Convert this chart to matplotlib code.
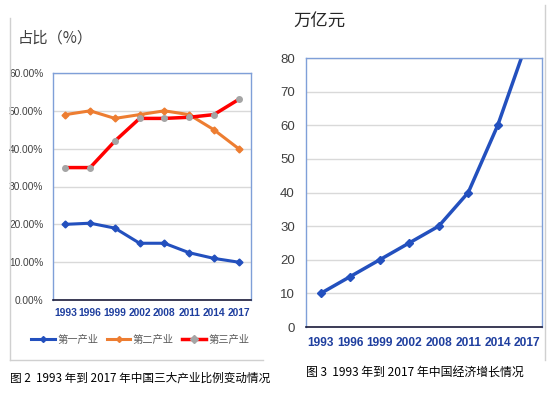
import matplotlib
matplotlib.use("Agg")
import matplotlib.pyplot as plt
from matplotlib.lines import Line2D
from matplotlib.ticker import FuncFormatter

plt.rcParams['font.family'] = ['Noto Sans CJK SC', 'DejaVu Sans']

years = ['1993', '1996', '1999', '2002', '2008', '2011', '2014', '2017']
primary = [20.0, 20.3, 19.0, 15.0, 15.0, 12.5, 11.0, 10.0]
secondary = [49.0, 50.0, 48.0, 49.0, 50.0, 49.0, 45.0, 40.0]
tertiary = [35.0, 35.0, 42.0, 48.0, 48.0, 48.3, 49.0, 53.0]
series_names = ['第一产业', '第二产业', '第三产业']
gdp = [10, 15, 20, 25, 30, 40, 60, 85]

W, H = 554, 393
fig = plt.figure(figsize=(W / 100, H / 100), dpi=100)

def fx(px):
    return px / W

def fy(py):
    return 1 - py / H

blue = '#2350BE'
orange = '#ED7D31'
red = '#FF0000'
gray_m = '#A5A5A5'
tick_blue = '#1F3F9F'
spine_blue = '#7F9FD8'
grid_c = '#D9D9D9'
num_font = 'Liberation Sans'

# ---- Left chart
ax1 = fig.add_axes([fx(53), fy(300), fx(198), (300 - 73) / H])
x = list(range(len(years)))
ax1.plot(x, primary, color=blue, lw=2.2, marker='D', ms=3.5, mfc=blue, mec=blue)
ax1.plot(x, secondary, color=orange, lw=2.2, marker='D', ms=3.5, mfc=orange, mec=orange)
ax1.plot(x, tertiary, color=red, lw=2.5, marker='o', ms=4, mfc=gray_m, mec=gray_m)
ax1.set_xlim(-0.5, len(years) - 0.5)
ax1.set_ylim(0, 60)
ax1.set_yticks([0, 10, 20, 30, 40, 50, 60])
ax1.yaxis.set_major_formatter(FuncFormatter(lambda v, p: f"{v:.2f}%"))
ax1.set_xticks(x)
ax1.set_xticklabels(years)
ax1.grid(axis='y', color=grid_c, lw=1)
ax1.set_axisbelow(True)
ax1.tick_params(axis='both', length=0)
ax1.tick_params(axis='y', labelcolor='#404040', pad=7)
ax1.tick_params(axis='x', labelcolor=tick_blue, pad=6)
for lab in ax1.get_xticklabels():
    lab.set_fontfamily(num_font)
    lab.set_fontweight('bold')
    lab.set_fontsize(7.4)
for lab in ax1.get_yticklabels():
    lab.set_fontfamily(num_font)
    lab.set_fontsize(7.3)
for s in ['top', 'right', 'left']:
    ax1.spines[s].set_color(spine_blue)
    ax1.spines[s].set_linewidth(1)
ax1.spines['bottom'].set_color('#1a1a3a')
ax1.spines['bottom'].set_linewidth(1.2)

handles = [
    Line2D([], [], color=blue, lw=2.2, marker='D', ms=3, mfc=blue, mec=blue),
    Line2D([], [], color=orange, lw=2.2, marker='D', ms=3, mfc=orange, mec=orange),
    Line2D([], [], color=red, lw=2.5, marker='D', ms=4, mfc=gray_m, mec=gray_m),
]
fig.legend(handles, series_names, loc='center left', bbox_to_anchor=(fx(22), fy(340)),
           ncol=3, frameon=False, fontsize=7.4, handlelength=2.3, handletextpad=0.25,
           columnspacing=0.8, labelcolor='#595959')

fig.text(fx(18), fy(38), '占比（%）', fontsize=11, color='#404040', va='center', ha='left')
fig.text(fx(10), fy(378), '图 2  1993 年到 2017 年中国三大产业比例变动情况', fontsize=8.4,
         color='#000000', va='center', ha='left')

# frame for left panel
fig.add_artist(Line2D([fx(10), fx(10)], [fy(18), fy(360)], color='#D0D0D0', lw=1))
fig.add_artist(Line2D([fx(10), fx(263)], [fy(360), fy(360)], color='#D0D0D0', lw=1))

# ---- Right chart
ax2 = fig.add_axes([fx(306), fy(327), fx(236), (327 - 58) / H])
ax2.plot(x, gdp, color=blue, lw=2.5, marker='D', ms=4, mfc=blue, mec=blue)
ax2.set_xlim(-0.5, len(years) - 0.5)
ax2.set_ylim(0, 80)
ax2.set_yticks(range(0, 81, 10))
ax2.set_xticks(x)
ax2.set_xticklabels(years)
ax2.grid(axis='y', color=grid_c, lw=1)
ax2.set_axisbelow(True)
ax2.tick_params(axis='both', length=0)
ax2.tick_params(axis='y', labelcolor='#404040', pad=8)
ax2.tick_params(axis='x', pad=7)
for lab in ax2.get_xticklabels():
    lab.set_fontfamily(num_font)
    lab.set_fontweight('bold')
    lab.set_fontsize(8.6)
    lab.set_color(tick_blue)
for lab in ax2.get_yticklabels():
    lab.set_fontfamily(num_font)
    lab.set_fontsize(9.5)
for s in ['top', 'right', 'left']:
    ax2.spines[s].set_color(spine_blue)
    ax2.spines[s].set_linewidth(1)
ax2.spines['bottom'].set_color('#1a1a3a')
ax2.spines['bottom'].set_linewidth(1.2)

fig.text(fx(293), fy(22), '万亿元', fontsize=12.5, color='#262626', va='center', ha='left')
fig.text(fx(306), fy(372), '图 3  1993 年到 2017 年中国经济增长情况', fontsize=8.6,
         color='#000000', va='center', ha='left')
fig.add_artist(Line2D([fx(545), fx(545)], [fy(5), fy(360)], color='#D0D0D0', lw=1))

fig.savefig('out.png', dpi=100, facecolor='white')
